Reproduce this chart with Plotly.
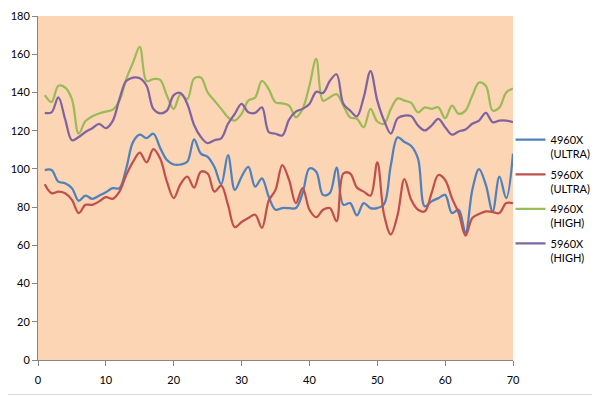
import plotly.graph_objects as go

x_vals = list(range(1, 71))

ultra_4960x = [99.4, 99.4, 93.3, 92.5, 89.9, 83.3, 86.0, 84.3, 86.0, 87.8,
               89.9, 89.9, 100.2, 114.0, 117.9, 116.1, 118.4, 111.0, 104.6, 102.3,
               102.3, 103.7, 115.5, 108.0, 106.3, 101.0, 92.0, 107.2, 89.0, 95.9,
               101.1, 90.7, 95.0, 85.5, 78.6, 79.5, 79.5, 79.5, 87.3, 100.2,
               98.5, 86.4, 87.3, 100.6, 81.2, 82.1, 75.7, 82.1, 79.5, 79.5,
               81.6, 102.0, 116.5, 114.1, 112.0, 105.4, 80.4, 83.0, 84.7, 86.4,
               76.9, 78.6, 66.5, 89.0, 99.9, 91.6, 77.8, 95.9, 84.7, 108.0]

ultra_5960x = [92.0, 87.3, 88.1, 87.3, 83.8, 76.9, 81.2, 81.2, 83.0, 85.2,
               84.3, 88.1, 96.8, 103.7, 108.5, 103.4, 110.3, 105.4, 93.3, 84.7,
               92.0, 95.9, 90.2, 98.5, 97.6, 88.1, 91.2, 81.2, 69.5, 72.2,
               74.3, 76.0, 69.1, 83.3, 89.0, 102.0, 94.2, 82.1, 89.9, 78.6,
               74.7, 78.6, 79.5, 72.6, 97.6, 97.6, 90.2, 88.1, 86.0, 103.4,
               76.0, 65.7, 76.0, 94.7, 83.8, 78.6, 77.8, 87.3, 96.8, 94.2,
               84.7, 76.9, 65.1, 74.3, 76.4, 77.8, 77.4, 76.9, 82.1, 82.1]

high_4960x = [138.6, 135.0, 143.5, 142.6, 136.5, 118.4, 125.0, 127.5, 129.0, 130.0,
              131.0, 135.7, 147.0, 155.6, 163.8, 146.0, 147.0, 146.6, 138.3, 131.4,
              139.0, 136.5, 147.3, 147.8, 140.0, 135.7, 131.4, 127.0, 125.3, 128.8,
              135.7, 137.4, 146.0, 141.7, 134.8, 134.3, 133.1, 127.0, 131.4, 143.5,
              157.6, 135.7, 137.4, 139.1, 133.1, 127.0, 126.2, 121.8, 131.4, 124.8,
              123.6, 131.4, 136.9, 135.7, 134.5, 129.6, 132.2, 131.4, 132.2, 126.5,
              133.1, 128.8, 130.5, 138.3, 145.2, 143.5, 130.5, 132.2, 140.0, 142.0]

high_5960x = [129.3, 129.6, 137.4, 126.0, 115.0, 116.7, 119.3, 121.3, 123.6, 121.3,
              125.0, 136.5, 146.0, 147.8, 147.4, 143.5, 131.4, 129.1, 130.5, 138.6,
              139.7, 134.0, 123.0, 116.7, 113.5, 115.0, 116.0, 123.6, 128.8, 134.0,
              129.6, 129.3, 132.2, 119.3, 118.4, 117.5, 125.8, 130.0, 131.4, 134.0,
              140.3, 139.7, 146.0, 149.5, 134.0, 130.5, 127.5, 137.4, 151.2, 135.7,
              125.3, 118.4, 126.5, 127.9, 127.6, 122.7, 120.1, 122.7, 126.2, 121.8,
              117.9, 119.6, 120.6, 123.6, 125.3, 129.3, 124.4, 125.3, 125.3, 124.4]

series_names = ["4960X<br>(ULTRA)", "5960X<br>(ULTRA)", "4960X<br>(HIGH)", "5960X<br>(HIGH)"]
series_data = [ultra_4960x, ultra_5960x, high_4960x, high_5960x]
series_colors = ["#4F81BD", "#C0504D", "#9BBB59", "#8064A2"]

fig = go.Figure()
for i, (name, data, color) in enumerate(zip(series_names, series_data, series_colors)):
    fig.add_trace(go.Scatter(
        x=x_vals, y=data, name=name, mode="lines", legendgroup=f"g{i}",
        line=dict(color=color, width=2.25, shape="spline", smoothing=1.0),
    ))

W, H = 592, 388
L, R, T, B = 30, 87, 8, 36
PW, PH = W - L - R, H - T - B

font_family = "Lato, 'Liberation Sans', Arial, sans-serif"
fig.update_layout(
    width=W, height=H,
    margin=dict(l=L, r=R, t=T, b=B, autoexpand=False),
    paper_bgcolor="white",
    plot_bgcolor="#FCD5B4",
    font=dict(family=font_family, size=11, color="#000000"),
    showlegend=True,
    legend=dict(
        xref="container", yref="container",
        x=502.5 / W, y=1 - 118 / H, xanchor="left", yanchor="top",
        bgcolor="rgba(0,0,0,0)", valign="top",
        font=dict(size=11, family=font_family),
        itemwidth=30, tracegroupgap=3, traceorder="grouped",
    ),
    xaxis=dict(
        range=[0, 70], dtick=10, tick0=0, showgrid=False, zeroline=False,
        showline=True, linecolor="#868686", linewidth=1, automargin=False,
        ticks="outside", ticklen=5, tickcolor="#868686",
        tickfont=dict(size=11), ticklabelstandoff=5, ticklabeloverflow="allow",
    ),
    yaxis=dict(
        range=[0, 180], dtick=20, tick0=0, showgrid=False, zeroline=False,
        showline=True, linecolor="#868686", linewidth=1, automargin=False,
        ticks="outside", ticklen=5, tickcolor="#868686",
        tickfont=dict(size=11), ticklabeloverflow="allow",
    ),
    shapes=[dict(
        type="rect", xref="paper", yref="paper",
        x0=(-8 - L) / PW, x1=(590.5 - L) / PW,
        y0=(PH + T - (H - 1.5)) / PH, y1=(PH + T + 8) / PH,
        line=dict(color="#D9D9D9", width=1), fillcolor="rgba(0,0,0,0)",
        layer="below",
    )],
)

fig.write_html("out.html")
